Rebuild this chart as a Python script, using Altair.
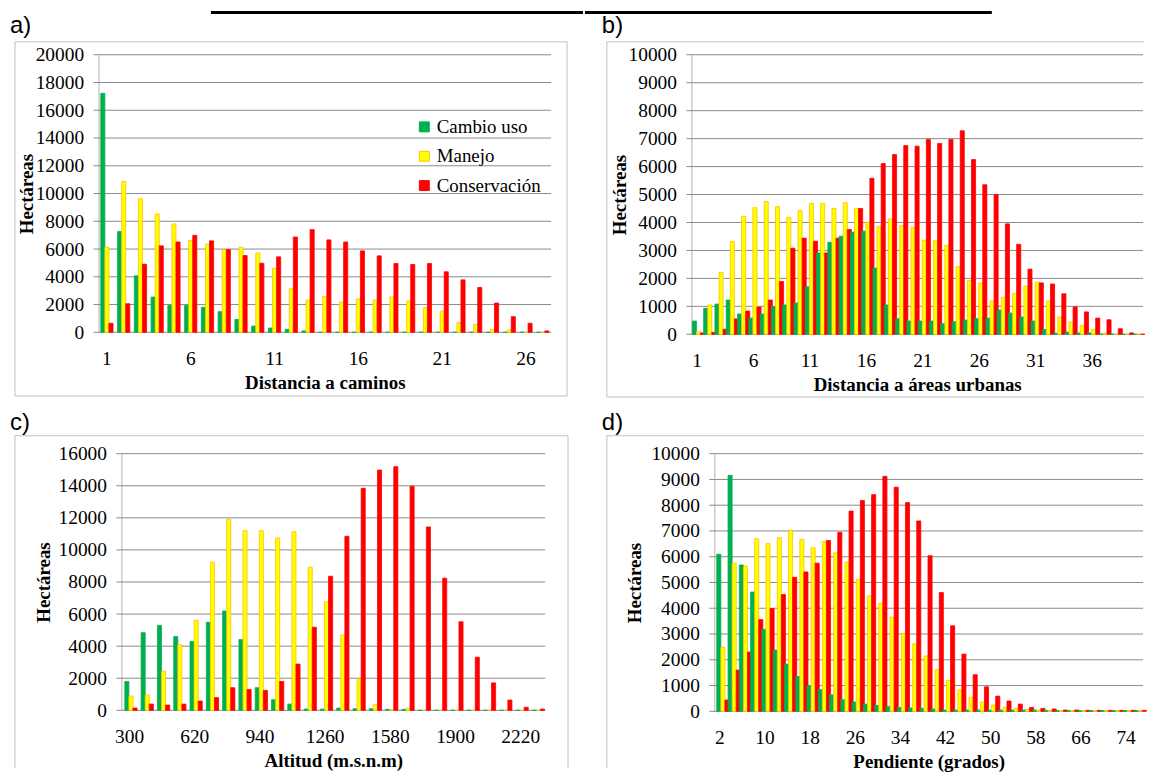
import altair as alt
import pandas as pd

SERIES = ["Cambio uso", "Manejo", "Conservación"]
FILL = ["#00B050", "#FFFF00", "#FF0000"]
EDGE = ["#00B050", "#FFC000", "#FF0000"]
SERIF = "Liberation Serif, Times New Roman, serif"
SANS = "Liberation Sans, Arial, sans-serif"

# a) Distancia a caminos
a_cats = list(range(1, 28))
a_ticks = [1, 6, 11, 16, 21, 26]
a_cambio = [17220, 7260, 4070, 2540, 1940, 1940, 1800, 1490, 930, 450,
            310, 215, 100, 0, 0, 0, 0, 0, 0, 0,
            0, 0, 0, 0, 0, 0, 0]
a_manejo = [6130, 10870, 9630, 8530, 7810, 6630, 6350, 5960, 6130, 5720,
            4620, 3140, 2320, 2590, 2180, 2400, 2320, 2540, 2250, 1770,
            1530, 700, 570, 215, 170, 0, 0]
a_conserv = [650, 2060, 4910, 6230, 6510, 6990, 6590, 5960, 5530, 4980,
             5440, 6870, 7400, 6660, 6510, 5870, 5510, 4960, 4890, 4960,
             4360, 3780, 3230, 2110, 1130, 650, 100]

# b) Distancia a áreas urbanas
b_cats = list(range(1, 41))
b_ticks = [1, 6, 11, 16, 21, 26, 31, 36]
b_cambio = [475, 930, 1080, 1225, 725, 580, 725, 990, 1050, 1120,
            1700, 2910, 3290, 3510, 3650, 3690, 2370, 1050, 560, 475,
            475, 475, 380, 450, 510, 560, 580, 870, 760, 620,
            475, 170, 40, 80, 50, 50, 0, 0, 0, 0]
b_manejo = [95, 1050, 2210, 3320, 4220, 4530, 4750, 4570, 4190, 4430,
            4680, 4680, 4500, 4710, 4500, 4010, 3860, 4130, 3890, 3830,
            3365, 3350, 3187, 2425, 1926, 1831, 1189, 1320, 1463, 1724,
            1867, 1190, 618, 440, 309, 178, 48, 0, 0, 0]
b_conserv = [50, 70, 180, 550, 830, 975, 1225, 1890, 3080, 3440,
             3330, 2910, 3440, 3750, 4500, 5580, 6110, 6430, 6750, 6730,
             6970, 6830, 6970, 7280, 6250, 5350, 5000, 3950, 3220, 2330,
             1840, 1800, 1450, 980, 800, 580, 520, 200, 50, 0]

# c) Altitud
c_cats = list(range(300, 2301, 80))
c_ticks = [300, 620, 940, 1260, 1580, 1900, 2220]
c_cambio = [1800, 4840, 5300, 4600, 4290, 5490, 6190, 4410, 1410, 660,
            390, 80, 80, 140, 100, 100, 60, 60, 0, 0,
            0, 0, 0, 0, 0, 0]
c_manejo = [890, 950, 2440, 4080, 5610, 9230, 11900, 11200, 11200, 10750,
            11140, 8920, 6770, 4690, 1960, 350, 40, 120, 0, 0,
            0, 0, 0, 0, 0, 0]
c_conserv = [145, 390, 330, 390, 580, 790, 1410, 1300, 1240, 1800,
             2880, 5180, 8360, 10850, 13840, 14980, 15190, 13970, 11430, 8240,
             5520, 3310, 1710, 640, 190, 80]

# d) Pendiente
d_cats = list(range(2, 77, 2))
d_ticks = [2, 10, 18, 26, 34, 42, 50, 58, 66, 74]
d_cambio = [6100, 9160, 5680, 4630, 3180, 2380, 1830, 1350, 1000, 840,
            640, 450, 360, 280, 230, 190, 150, 130, 115, 90,
            50, 50, 50, 50, 50, 50, 50, 50, 50, 40,
            30, 30, 30, 30, 30, 30, 30, 30]
d_manejo = [2490, 5750, 5640, 6700, 6510, 6740, 7030, 6670, 6350, 6590,
            6150, 5790, 5120, 4480, 4200, 3660, 3020, 2620, 2150, 1620,
            1200, 830, 550, 360, 245, 150, 115, 75, 50, 40,
            30, 30, 30, 30, 30, 30, 30, 30]
d_conserv = [440, 1600, 2300, 3560, 3990, 4530, 5200, 5410, 5750, 6630,
             6950, 7770, 8180, 8410, 9120, 8700, 8100, 7390, 6040, 4610,
             3320, 2220, 1420, 950, 590, 400, 280, 150, 115, 90,
             50, 50, 40, 40, 40, 40, 40, 40]


def long_df(cats, cambio, manejo, conserv):
    rows = []
    for i, c in enumerate(cats):
        for s, vals in zip(SERIES, (cambio, manejo, conserv)):
            rows.append({"cat": c, "serie": s, "valor": vals[i]})
    return pd.DataFrame(rows)


ONE = pd.DataFrame({"k": [0]})
GRID = "#8A8A8A"
BOX = "#BFBFBF"


def panel(df, cats, ticks, ymax, ystep, xtitle, pad, geo, cell, ytitle_x,
          label, label_pos, segments, legend=False, topbar=None):
    PL, PT, W, H = geo
    cl, ct, cr, cb = cell
    cw, ch = cr - cl, cb - ct
    ox, oy = PL - cl, PT - ct
    yvals = list(range(0, ymax + 1, ystep))
    yscale = alt.Scale(domain=[0, ymax], nice=False, zero=True, range=[oy + H, oy])
    yaxis = alt.Axis(values=yvals, grid=False, ticks=False, format="d",
                     labelPadding=15, domainColor=BOX, domainWidth=1.2,
                     offset=-ox, labelFont=SERIF, labelFontSize=19.5,
                     labelColor="black", titleFont=SERIF, titleFontSize=19,
                     titleFontWeight="bold", titleColor="black",
                     titleX=ytitle_x, titleY=oy + H / 2, titleAngle=270,
                     titleBaseline="middle", titleAlign="center")
    if legend:
        leg = alt.Legend(title=None, orient="none", legendX=318 + ox, legendY=63 + oy,
                         symbolType="square", symbolSize=100, symbolStrokeWidth=1,
                         labelFont=SERIF, labelFontSize=19, labelColor="black",
                         rowPadding=9.5, labelOffset=3, padding=0)
    else:
        leg = None
    bars = alt.Chart(df).mark_bar(strokeWidth=0.8).encode(
        x=alt.X("cat:O", sort=cats, title=xtitle,
                scale=alt.Scale(paddingInner=pad, paddingOuter=pad / 2,
                                range=[ox, ox + W]),
                axis=alt.Axis(values=ticks, labelAngle=0, domain=False, ticks=False,
                              tickSize=0, labelPadding=17, grid=False,
                              offset=-(ch - oy - H),
                              labelFont=SERIF, labelFontSize=19.5, labelColor="black",
                              titleFont=SERIF, titleFontSize=19,
                              titleFontWeight="bold", titleColor="black",
                              titleX=ox + W / 2, titleY=50, titleBaseline="middle",
                              titleAlign="center")),
        xOffset=alt.XOffset("serie:N", sort=SERIES,
                            scale=alt.Scale(paddingInner=0, paddingOuter=0)),
        y=alt.Y("valor:Q", title="Hectáreas", scale=yscale, axis=yaxis),
        fill=alt.Fill("serie:N", sort=SERIES,
                      scale=alt.Scale(domain=SERIES, range=FILL), legend=leg),
        stroke=alt.Stroke("serie:N", sort=SERIES,
                          scale=alt.Scale(domain=SERIES, range=EDGE), legend=leg),
    )
    grid = alt.Chart(pd.DataFrame({"v": yvals})).mark_rule(
        color=GRID, strokeWidth=1
    ).encode(
        y=alt.Y("v:Q", title="Hectáreas", scale=yscale, axis=yaxis),
        x=alt.value(ox - 5), x2=alt.value(ox + W),
    )
    layers = []
    for (x1, y1, x2, y2) in segments:
        layers.append(alt.Chart(ONE).mark_rule(color=BOX, strokeWidth=1).encode(
            x=alt.value(x1 - cl), x2=alt.value(x2 - cl),
            y=alt.value(y1 - ct), y2=alt.value(y2 - ct)))
    layers.append(grid)
    layers.append(bars)
    layers.append(alt.Chart(ONE).mark_text(
        font=SANS, fontSize=24, align="left", baseline="alphabetic", color="black"
    ).encode(x=alt.value(label_pos[0] - cl), y=alt.value(label_pos[1] - ct),
             text=alt.value(label)))
    if topbar is not None:
        x1, x2, y1, y2 = topbar
        layers.append(alt.Chart(ONE).mark_rect(color="black").encode(
            x=alt.value(x1 - cl), x2=alt.value(x2 - cl),
            y=alt.value(y1 - ct), y2=alt.value(y2 - ct)))
    return alt.layer(*layers).properties(width=cw, height=ch)


# page-coordinate geometry (plot left, plot top, width, height)
GA = (98, 52, 455, 279)
GB = (692, 52, 454, 281)
GC = (121, 451, 426, 258)
GD = (715, 451, 431, 259)
XM, YM = 585, 400
XR, YB = 1148, 768
CA = (8, 8, XM, YM)
CB = (XM, 8, XR, YM)
CC = (8, YM, XM, YB)
CD = (XM, YM, XR, YB)

pa = panel(long_df(a_cats, a_cambio, a_manejo, a_conserv), a_cats, a_ticks, 20000, 2000,
           "Distancia a caminos", 0.27, GA, CA, -72, "a)", (9, 30),
           [(14, 39, 569, 39), (14, 39, 14, 395), (569, 39, 569, 395), (14, 395, 569, 395)],
           legend=True, topbar=(211, XM, 8.0, 11.0))
pb = panel(long_df(b_cats, b_cambio, b_manejo, b_conserv), b_cats, b_ticks, 10000, 1000,
           "Distancia a áreas urbanas", 0.17, GB, CB, -72, "b)", (602, 30),
           [(607, 39, XR - 1, 39), (607, 39, 607, 396), (607, 396, XR - 1, 396)],
           topbar=(XM, 994, 8.0, 11.0))
pc = panel(long_df(c_cats, c_cambio, c_manejo, c_conserv), c_cats, c_ticks, 16000, 2000,
           "Altitud (m.s.n.m)", 0.42, GC, CC, -78, "c)", (9, 427),
           [(14, 433, 570, 433), (14, 433, 14, YB - 1), (570, 433, 570, YB - 1)])
pd_ = panel(long_df(d_cats, d_cambio, d_manejo, d_conserv), d_cats, d_ticks, 10000, 1000,
            "Pendiente (grados)", 0.44, GD, CD, -80, "d)", (602, 427),
            [(607, 433, XR - 1, 433), (607, 433, 607, YB - 1)])

row1 = alt.hconcat(pa, pb, spacing=0).resolve_scale(
    fill="independent", stroke="independent")
row2 = alt.hconcat(pc, pd_, spacing=0).resolve_scale(
    fill="independent", stroke="independent")

chart = alt.vconcat(row1, row2, spacing=0).resolve_scale(
    fill="independent", stroke="independent"
).properties(padding=0, background="white").configure_view(
    stroke="transparent"
)

chart.save("out.html", embed_options={"renderer": "svg", "actions": False})
